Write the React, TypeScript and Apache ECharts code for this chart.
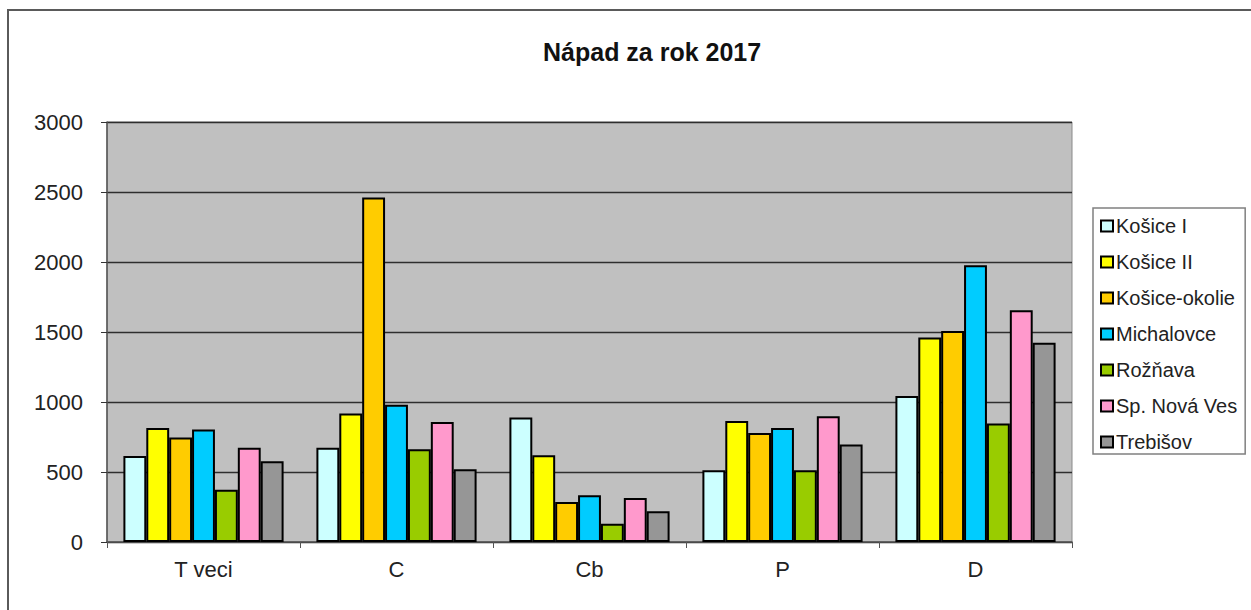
import React, { useEffect, useRef } from "react";
import * as echarts from "echarts";

const categories = ["T veci", "C", "Cb", "P", "D"];
const seriesNames = ["Košice I", "Košice II", "Košice-okolie", "Michalovce", "Rožňava", "Sp. Nová Ves", "Trebišov"];
const kosice1 = [614, 674, 889, 512, 1043];
const kosice2 = [814, 917, 619, 864, 1460];
const kosiceOkolie = [746, 2460, 286, 779, 1507];
const michalovce = [803, 981, 334, 814, 1976];
const roznava = [374, 662, 131, 512, 846];
const spNovaVes = [674, 857, 314, 898, 1655];
const trebisov = [576, 519, 219, 696, 1424];
const colors = ["#CCFFFF", "#FFFF00", "#FFCC00", "#00CCFF", "#99CC00", "#FF99CC", "#969696"];
const yTicks = [0, 500, 1000, 1500, 2000, 2500, 3000];

const FONT = 'Arial, "Liberation Sans", sans-serif';

export default function App() {
  const ref = useRef<HTMLDivElement>(null);
  useEffect(() => {
    if (!ref.current) return;
    const chart = echarts.init(ref.current, null, { renderer: "svg" });
    const allData = [kosice1, kosice2, kosiceOkolie, michalovce, roznava, spNovaVes, trebisov];
    chart.setOption({
      animation: false,
      backgroundColor: "#ffffff",
      textStyle: { fontFamily: FONT },
      title: {
        text: "Nápad za rok 2017",
        left: 538,
        top: 34,
        textStyle: { fontFamily: FONT, fontSize: 25, fontWeight: "bold", color: "#111" },
      },
      graphic: [
        {
          type: "rect",
          shape: { x: 8, y: 10, width: 1400, height: 800 },
          style: { fill: "none", stroke: "#5a5a5a", lineWidth: 2 },
          silent: true,
        },
      ],
      legend: {
        orient: "vertical",
        left: 1093,
        top: 208,
        padding: [8, 8, 2, 7],
        borderColor: "#808080",
        borderWidth: 1.5,
        backgroundColor: "#ffffff",
        itemWidth: 12,
        itemHeight: 11,
        itemGap: 16,
        icon: "rect",
        textStyle: { fontFamily: FONT, fontSize: 20, color: "#222", lineHeight: 20, padding: [0, 0, 0, -2] },
        data: seriesNames,
      },
      grid: {
        left: 107,
        right: 179,
        top: 122,
        bottom: 68,
        show: true,
        backgroundColor: "#C0C0C0",
        borderColor: "#8a8a8a",
        borderWidth: 1,
      },
      xAxis: {
        type: "category",
        data: categories,
        axisLine: { show: true, lineStyle: { color: "#555", width: 1.5 } },
        axisTick: { show: true, length: 6, lineStyle: { color: "#555" } },
        axisLabel: { fontFamily: FONT, fontSize: 22, color: "#222", margin: 16 },
      },
      yAxis: {
        type: "value",
        min: yTicks[0],
        max: yTicks[yTicks.length - 1],
        interval: 500,
        axisLine: { show: true, lineStyle: { color: "#555", width: 1.5 } },
        axisTick: { show: true, length: 6, lineStyle: { color: "#333" } },
        axisLabel: {
          fontFamily: FONT,
          fontSize: 22,
          color: "#222",
          margin: 24,
          formatter: (v: number) => String(v),
        },
        splitLine: { show: true, lineStyle: { color: "#2e2e2e", width: 1.3 } },
      },
      series: seriesNames.map((name, i) => ({
        name,
        type: "bar",
        data: allData[i],
        barGap: "0%",
        barCategoryGap: "17%",
        itemStyle: { color: colors[i], borderColor: "#000", borderWidth: 2 },
      })),
    });
    return () => chart.dispose();
  }, []);
  return <div ref={ref} style={{ position: "fixed", left: 0, top: 0, width: 1251, height: 610 }} />;
}
